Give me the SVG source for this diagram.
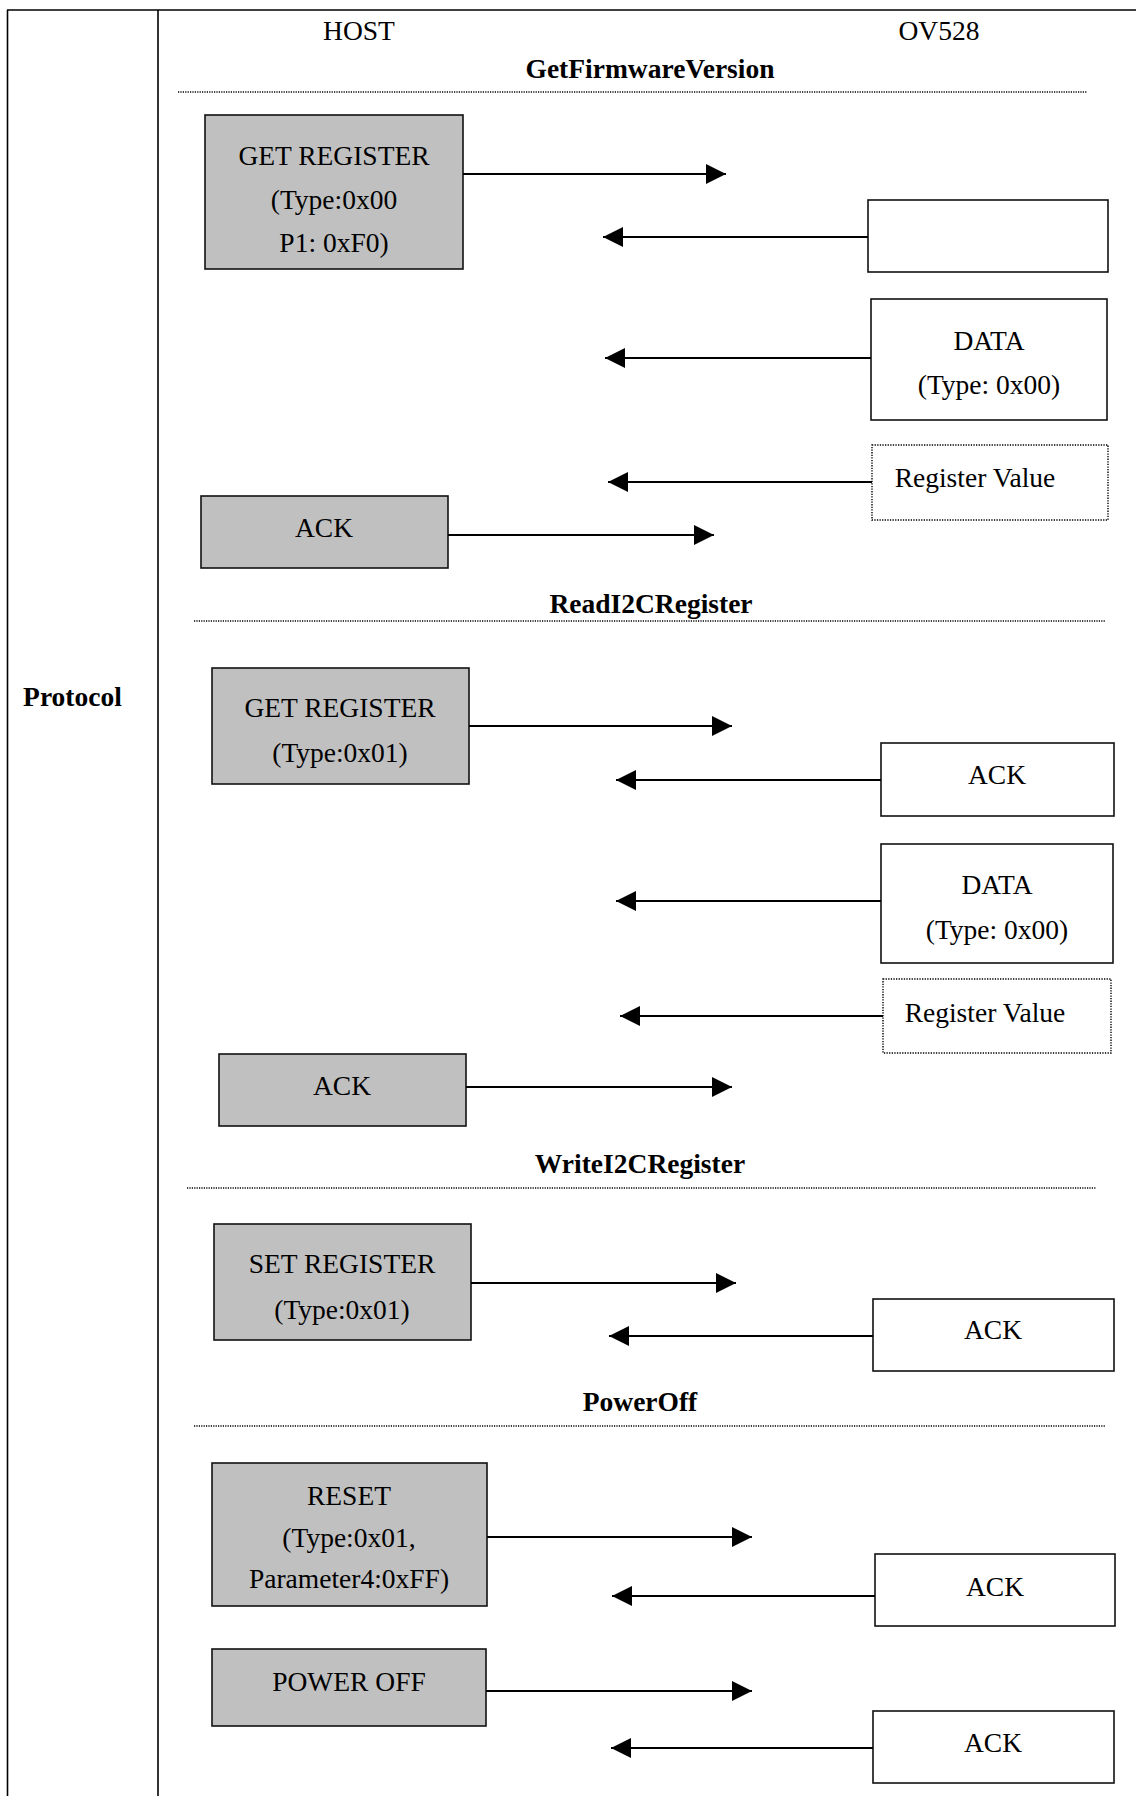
<svg xmlns="http://www.w3.org/2000/svg" width="1136" height="1796" viewBox="0 0 1136 1796">
  <style>
    text { font-family: "Liberation Serif", "Times New Roman", serif; fill: #000; }
    .t { font-size: 27.5px; text-anchor: middle; }
    .b { font-size: 27.5px; font-weight: bold; text-anchor: middle; }
    .frame { stroke: #000; stroke-width: 1.6; fill: none; }
    .sep { stroke: #000; stroke-width: 1.3; stroke-dasharray: 1.2 1.2; fill: none; }
    .host { fill: #c0c0c0; stroke: #111; stroke-width: 1.6; }
    .dev { fill: #fff; stroke: #111; stroke-width: 1.6; }
    .dev-dot { fill: #fff; stroke: #000; stroke-width: 1.4; stroke-dasharray: 1.3 1.3; }
    .msg { stroke: #000; stroke-width: 2; fill: none; marker-end: url(#ah); }
  </style>
  <defs>
    <marker id="ah" markerWidth="20" markerHeight="20" refX="20" refY="10" orient="auto" markerUnits="userSpaceOnUse">
      <path d="M0,0 L20,10 L0,20 Z" fill="#000"/>
    </marker>
  </defs>

  <rect x="0" y="0" width="1136" height="1796" fill="#fff"/>

  <!-- table frame -->
  <g id="table">
    <line class="frame" x1="7" y1="10" x2="1136" y2="10"/>
    <line class="frame" x1="7.5" y1="10" x2="7.5" y2="1796"/>
    <line class="frame" x1="158" y1="10" x2="158" y2="1796"/>
    <text class="b" x="72.5" y="706">Protocol</text>
  </g>

  <!-- lane headings -->
  <g id="lanes">
    <text class="t" x="359" y="40">HOST</text>
    <text class="t" x="939" y="40">OV528</text>
  </g>

  <!-- section titles and separators -->
  <g id="sections">
    <text class="b" x="650" y="78">GetFirmwareVersion</text>
    <line class="sep" x1="178" y1="92" x2="1087" y2="92"/>
    <text class="b" x="651" y="613">ReadI2CRegister</text>
    <line class="sep" x1="194" y1="621" x2="1105" y2="621"/>
    <text class="b" x="640" y="1173">WriteI2CRegister</text>
    <line class="sep" x1="187" y1="1188" x2="1096" y2="1188"/>
    <text class="b" x="640" y="1411">PowerOff</text>
    <line class="sep" x1="194" y1="1426" x2="1105" y2="1426"/>
  </g>

  <!-- GetFirmwareVersion -->
  <g id="fw-get">
    <rect class="host" x="205" y="115" width="258" height="154"/>
    <text class="t" x="334" y="165">GET REGISTER</text>
    <text class="t" x="334" y="209">(Type:0x00</text>
    <text class="t" x="334" y="252">P1: 0xF0)</text>
  </g>
  <g id="fw-reply">
    <rect class="dev" x="868" y="200" width="240" height="72"/>
  </g>
  <g id="fw-data">
    <rect class="dev" x="871" y="299" width="236" height="121"/>
    <text class="t" x="989" y="350">DATA</text>
    <text class="t" x="989" y="394">(Type: 0x00)</text>
  </g>
  <g id="fw-value">
    <rect class="dev-dot" x="872" y="445" width="236" height="75"/>
    <text class="t" x="975" y="487">Register Value</text>
  </g>
  <g id="fw-ack">
    <rect class="host" x="201" y="496" width="247" height="72"/>
    <text class="t" x="324" y="537">ACK</text>
  </g>

  <!-- ReadI2CRegister -->
  <g id="rd-get">
    <rect class="host" x="212" y="668" width="257" height="116"/>
    <text class="t" x="340" y="717">GET REGISTER</text>
    <text class="t" x="340" y="762">(Type:0x01)</text>
  </g>
  <g id="rd-ack-in">
    <rect class="dev" x="881" y="743" width="233" height="73"/>
    <text class="t" x="997" y="784">ACK</text>
  </g>
  <g id="rd-data">
    <rect class="dev" x="881" y="844" width="232" height="119"/>
    <text class="t" x="997" y="894">DATA</text>
    <text class="t" x="997" y="939">(Type: 0x00)</text>
  </g>
  <g id="rd-value">
    <rect class="dev-dot" x="883" y="979" width="228" height="74"/>
    <text class="t" x="985" y="1022">Register Value</text>
  </g>
  <g id="rd-ack">
    <rect class="host" x="219" y="1054" width="247" height="72"/>
    <text class="t" x="342" y="1095">ACK</text>
  </g>

  <!-- WriteI2CRegister -->
  <g id="wr-set">
    <rect class="host" x="214" y="1224" width="257" height="116"/>
    <text class="t" x="342" y="1273">SET REGISTER</text>
    <text class="t" x="342" y="1319">(Type:0x01)</text>
  </g>
  <g id="wr-ack">
    <rect class="dev" x="873" y="1299" width="241" height="72"/>
    <text class="t" x="993" y="1339">ACK</text>
  </g>

  <!-- PowerOff -->
  <g id="po-reset">
    <rect class="host" x="212" y="1463" width="275" height="143"/>
    <text class="t" x="349" y="1505">RESET</text>
    <text class="t" x="349" y="1547">(Type:0x01,</text>
    <text class="t" x="349" y="1588">Parameter4:0xFF)</text>
  </g>
  <g id="po-ack1">
    <rect class="dev" x="875" y="1554" width="240" height="72"/>
    <text class="t" x="995" y="1596">ACK</text>
  </g>
  <g id="po-off">
    <rect class="host" x="212" y="1649" width="274" height="77"/>
    <text class="t" x="349" y="1691">POWER OFF</text>
  </g>
  <g id="po-ack2">
    <rect class="dev" x="873" y="1711" width="241" height="72"/>
    <text class="t" x="993" y="1752">ACK</text>
  </g>

  <!-- message arrows -->
  <g id="connectors">
    <line class="msg" x1="463" y1="174" x2="726" y2="174"/>
    <line class="msg" x1="868" y1="237" x2="603" y2="237"/>
    <line class="msg" x1="871" y1="358" x2="605" y2="358"/>
    <line class="msg" x1="872" y1="482" x2="608" y2="482"/>
    <line class="msg" x1="448" y1="535" x2="714" y2="535"/>

    <line class="msg" x1="469" y1="726" x2="732" y2="726"/>
    <line class="msg" x1="881" y1="780" x2="616" y2="780"/>
    <line class="msg" x1="881" y1="901" x2="616" y2="901"/>
    <line class="msg" x1="883" y1="1016" x2="620" y2="1016"/>
    <line class="msg" x1="466" y1="1087" x2="732" y2="1087"/>

    <line class="msg" x1="471" y1="1283" x2="736" y2="1283"/>
    <line class="msg" x1="873" y1="1336" x2="609" y2="1336"/>

    <line class="msg" x1="487" y1="1537" x2="752" y2="1537"/>
    <line class="msg" x1="875" y1="1596" x2="612" y2="1596"/>
    <line class="msg" x1="486" y1="1691" x2="752" y2="1691"/>
    <line class="msg" x1="873" y1="1748" x2="611" y2="1748"/>
  </g>
</svg>
